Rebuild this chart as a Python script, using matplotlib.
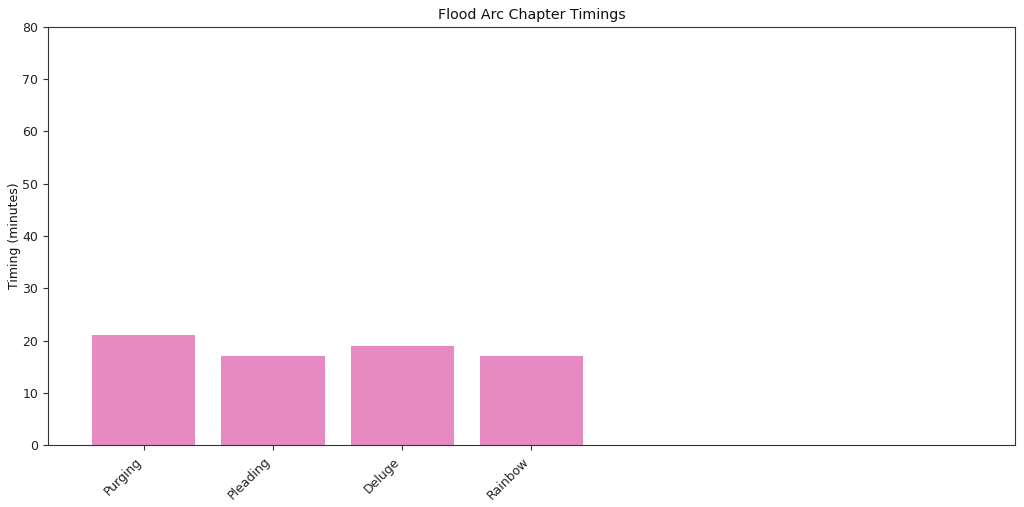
import matplotlib
matplotlib.use("Agg")
import matplotlib.pyplot as plt

chapters = ["Purging", "Pleading", "Deluge", "Rainbow"]
timings = [21, 17, 19, 17]

plt.rcParams["font.size"] = 9
plt.rcParams["axes.edgecolor"] = "#333333"
plt.rcParams["xtick.color"] = "#333333"
plt.rcParams["ytick.color"] = "#333333"
plt.rcParams["xtick.labelcolor"] = "#222222"
plt.rcParams["ytick.labelcolor"] = "#222222"
plt.rcParams["text.color"] = "#111111"
plt.rcParams["axes.labelcolor"] = "#111111"

fig = plt.figure(figsize=(10.24, 5.07), dpi=100)
ax = fig.add_axes([0.047, 0.122, 0.944, 0.825])
x = list(range(len(chapters)))
ax.bar(x, timings, width=0.8, color="#e78ac3")
ax.set_xticks(x)
ax.set_xticklabels(chapters, rotation=45, ha="right")
ax.set_xlim(-0.74, 6.74)
ax.set_ylim(0, 80)
ax.set_ylabel("Timing (minutes)", labelpad=1)
ax.set_title("Flood Arc Chapter Timings", fontsize=10.3)
fig.savefig("out.png", dpi=100)
